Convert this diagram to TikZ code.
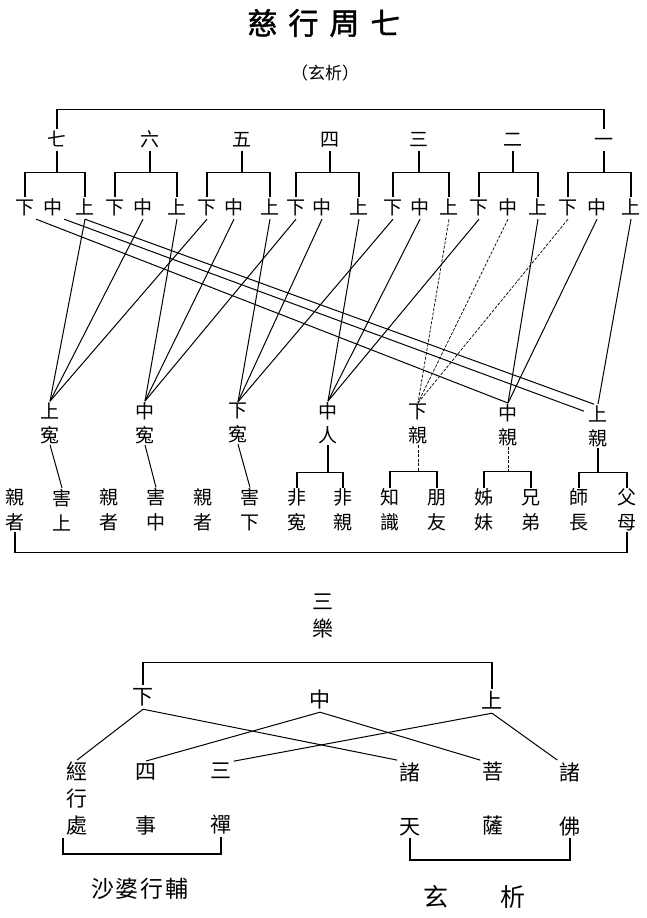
\documentclass[tikz,border=0pt]{standalone}
\usepackage{fontspec}
\newfontfamily\cjk{Noto Sans CJK TC}
\newfontfamily\cjkhead[FakeBold=1.5]{Noto Sans CJK TC}

\begin{document}
\begin{tikzpicture}[x=1pt,y=-1pt]
  \useasboundingbox (0,0) rectangle (646,918);
  \tikzstyle{Char}=[font=\cjk\fontsize{19}{22}\selectfont,inner sep=1.5pt,text height=16pt,text depth=3pt]
  \tikzstyle{Pair}=[font=\cjk\fontsize{19}{24}\selectfont,inner sep=1pt,align=center]
  \tikzstyle{Col}=[font=\cjk\fontsize{19}{25}\selectfont,inner sep=1pt,align=center]
  \tikzstyle{BigChar}=[font=\cjk\fontsize{21}{24}\selectfont,inner sep=2pt,text height=17pt,text depth=3pt]
  \tikzstyle{Big}=[font=\cjk\fontsize{21}{27}\selectfont,inner sep=2pt,align=center]
  \tikzstyle{Bracket}=[line width=1.3pt]
  \tikzstyle{Ray}=[line width=1pt]
  \tikzstyle{Faint}=[line width=0.7pt,dash pattern=on 3pt off 1.5pt]

  % title
  \node[font=\cjkhead\fontsize{30}{30}\selectfont] (title) at (324,23) {慈\hspace{11pt}行\hspace{11pt}周\hspace{11pt}七};
  \node[font=\cjk\fontsize{17}{17}\selectfont] (sub) at (325,73) {（玄析）};

  % seven rounds
  \node[Char] (n7) at (57,140) {七};
  \node[Char] (n6) at (150,140) {六};
  \node[Char] (n5) at (242,140) {五};
  \node[Char] (n4) at (330,140) {四};
  \node[Char] (n3) at (419,140) {三};
  \node[Char] (n2) at (513,140) {二};
  \node[Char] (n1) at (604,140) {一};

  \node[Char] (xia7) at (25,208) {下};
  \node[Char] (zhong7) at (53,208) {中};
  \node[Char] (shang7) at (85,208) {上};
  \node[Char] (xia6) at (115,208) {下};
  \node[Char] (zhong6) at (143,208) {中};
  \node[Char] (shang6) at (177,208) {上};
  \node[Char] (xia5) at (207,208) {下};
  \node[Char] (zhong5) at (234,208) {中};
  \node[Char] (shang5) at (270,208) {上};
  \node[Char] (xia4) at (296,208) {下};
  \node[Char] (zhong4) at (322,208) {中};
  \node[Char] (shang4) at (359,208) {上};
  \node[Char] (xia3) at (393,208) {下};
  \node[Char] (zhong3) at (420,208) {中};
  \node[Char] (shang3) at (449,208) {上};
  \node[Char] (xia2) at (479,208) {下};
  \node[Char] (zhong2) at (508,208) {中};
  \node[Char] (shang2) at (538,208) {上};
  \node[Char] (xia1) at (568,208) {下};
  \node[Char] (zhong1) at (597,208) {中};
  \node[Char] (shang1) at (631,208) {上};

  \draw[Bracket] (n7.north) -- ++(0,-19) -| (n1.north);

  \draw[Bracket] (xia7.north) -- ++(0,-24) coordinate (h7) -| (shang7.north);
  \draw[Bracket] (n7.south) -- (n7.south |- h7);
  \draw[Bracket] (xia6.north) -- ++(0,-24) coordinate (h6) -| (shang6.north);
  \draw[Bracket] (n6.south) -- (n6.south |- h6);
  \draw[Bracket] (xia5.north) -- ++(0,-24) coordinate (h5) -| (shang5.north);
  \draw[Bracket] (n5.south) -- (n5.south |- h5);
  \draw[Bracket] (xia4.north) -- ++(0,-24) coordinate (h4) -| (shang4.north);
  \draw[Bracket] (n4.south) -- (n4.south |- h4);
  \draw[Bracket] (xia3.north) -- ++(0,-24) coordinate (h3) -| (shang3.north);
  \draw[Bracket] (n3.south) -- (n3.south |- h3);
  \draw[Bracket] (xia2.north) -- ++(0,-24) coordinate (h2) -| (shang2.north);
  \draw[Bracket] (n2.south) -- (n2.south |- h2);
  \draw[Bracket] (xia1.north) -- ++(0,-24) coordinate (h1) -| (shang1.north);
  \draw[Bracket] (n1.south) -- (n1.south |- h1);

  % seven kinds of beings
  \node[Pair] (shangyuan) at (50,423) {上\\寃};
  \node[Pair] (zhongyuan) at (145,423) {中\\寃};
  \node[Pair] (xiayuan) at (238,423) {下\\寃};
  \node[Pair] (zhongren) at (328,423) {中\\人};
  \node[Pair] (xiaqin) at (418,424) {下\\親};
  \node[Pair] (zhongqin) at (508,425) {中\\親};
  \node[Pair] (shangqin) at (598,426) {上\\親};

  \draw[Ray] (shang7.south) -- (shangyuan.north);
  \draw[Ray] (zhong6.south) -- (shangyuan.north);
  \draw[Ray] (xia5.south) -- (shangyuan.north);
  \draw[Ray] (shang6.south) -- (zhongyuan.north);
  \draw[Ray] (zhong5.south) -- (zhongyuan.north);
  \draw[Ray] (xia4.south) -- (zhongyuan.north);
  \draw[Ray] (shang5.south) -- (xiayuan.north);
  \draw[Ray] (zhong4.south) -- (xiayuan.north);
  \draw[Ray] (xia3.south) -- (xiayuan.north);
  \draw[Ray] (shang4.south) -- (zhongren.north);
  \draw[Ray] (zhong3.south) -- (zhongren.north);
  \draw[Ray] (xia2.south) -- (zhongren.north);
  \draw[Faint] (shang3.south) -- (xiaqin.north);
  \draw[Faint] (zhong2.south) -- (xiaqin.north);
  \draw[Faint] (xia1.south) -- (xiaqin.north);
  \draw[Ray] (shang2.south) -- (zhongqin.north);
  \draw[Ray] (zhong1.south) -- (zhongqin.north);
  \draw[Ray] (xia7.south east) -- (zhongqin.north);
  \draw[Ray] (shang1.south) -- (shangqin.north);
  \draw[Ray] (zhong7.south east) -- ([xshift=-14pt,yshift=-7pt]shangqin.north);
  \draw[Ray] (shang7.south) -- ([xshift=-4pt]shangqin.north);

  % what each kind is
  \node[Col] (c1) at (15,510) {親\\者};
  \node[Col] (c2) at (62,510) {害\\上};
  \node[Col] (c3) at (109,510) {親\\者};
  \node[Col] (c4) at (156,510) {害\\中};
  \node[Col] (c5) at (203,510) {親\\者};
  \node[Col] (c6) at (250,510) {害\\下};
  \node[Col] (c7) at (297,510) {非\\寃};
  \node[Col] (c8) at (343,510) {非\\親};
  \node[Col] (c9) at (390,510) {知\\識};
  \node[Col] (c10) at (437,510) {朋\\友};
  \node[Col] (c11) at (484,510) {姊\\妹};
  \node[Col] (c12) at (531,510) {兄\\弟};
  \node[Col] (c13) at (579,510) {師\\長};
  \node[Col] (c14) at (627,510) {父\\母};

  \draw[Ray] (shangyuan.south) -- (c2.north);
  \draw[Ray] (zhongyuan.south) -- (c4.north);
  \draw[Ray] (xiayuan.south) -- (c6.north);
  \draw[Bracket] (c7.north) -- ++(0,-15) coordinate (hr) -| (c8.north);
  \draw[Bracket] (zhongren.south) -- (zhongren.south |- hr);
  \draw[Bracket] (c9.north) -- ++(0,-16) coordinate (hxq) -| (c10.north);
  \draw[Faint] (xiaqin.south) -- (xiaqin.south |- hxq);
  \draw[Bracket] (c11.north) -- ++(0,-16) coordinate (hzq) -| (c12.north);
  \draw[Faint] (zhongqin.south) -- (zhongqin.south |- hzq);
  \draw[Bracket] (c13.north) -- ++(0,-15) coordinate (hsq) -| (c14.north);
  \draw[Bracket] (shangqin.south) -- (shangqin.south |- hsq);
  \draw[Bracket] (c1.south) -- ++(0,20) -| (c14.south);

  % three joys
  \node[Big] (sanle) at (323,616) {三\\樂};
  \node[BigChar] (lx) at (143,697) {下};
  \node[BigChar] (lz) at (320,700) {中};
  \node[BigChar] (ls) at (492,701) {上};

  \node[Big] (jing) at (77,799) {經\\行\\處};
  \node[Big] (sishi) at (146,799) {四\\[27pt]事};
  \node[Big] (sanchan) at (221,799) {三\\[27pt]禪};
  \node[Big] (zhutian) at (410,799) {諸\\[27pt]天};
  \node[Big] (pusa) at (493,799) {菩\\[27pt]薩};
  \node[Big] (zhufo) at (570,799) {諸\\[27pt]佛};

  \draw[Bracket] (lx.north) -- ++(0,-22) -| (ls.north);
  \draw[Ray] (lx.south) -- (jing.north);
  \draw[Ray] (lx.south) -- (zhutian.north west);
  \draw[Ray] (lz.south) -- (sishi.north);
  \draw[Ray] (lz.south) -- (pusa.north west);
  \draw[Ray] (ls.south) -- (sanchan.north east);
  \draw[Ray] (ls.south) -- (zhufo.north west);
  \draw[Bracket] ([xshift=-14pt]jing.south) -- ++(0,16) -| (sanchan.south);
  \draw[Bracket] (zhutian.south) -- ++(0,22) -| (zhufo.south);

  \node[font=\cjk\fontsize{23}{23}\selectfont] (shapo) at (140,889) {沙\hspace{2pt}婆\hspace{2pt}行\hspace{2pt}輔};
  \node[font=\cjk\fontsize{25}{25}\selectfont] (xuan) at (436,897) {玄};
  \node[font=\cjk\fontsize{25}{25}\selectfont] (xi) at (513,897) {析};
\end{tikzpicture}
\end{document}
